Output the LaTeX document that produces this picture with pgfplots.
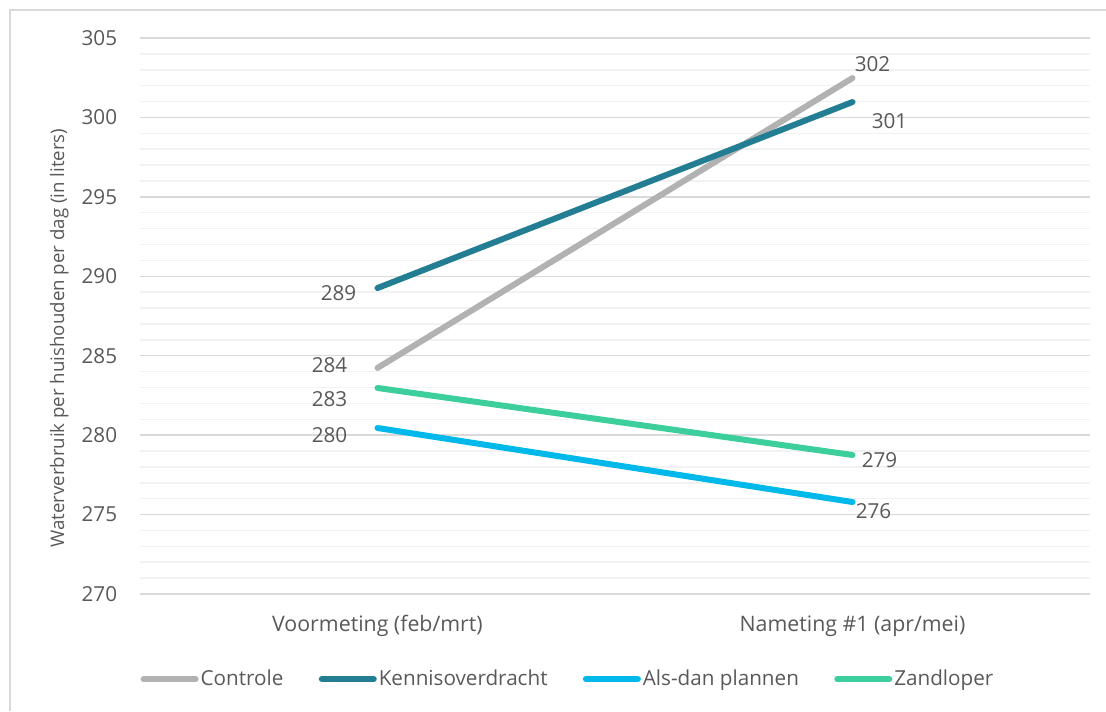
\documentclass[border=0pt]{standalone}
\usepackage{pgfplots}
\pgfplotsset{compat=1.18}
\usepackage{fontspec}
\setmainfont{Open Sans}

\definecolor{txt}{HTML}{595959}
\definecolor{gridmaj}{HTML}{D9D9D9}
\definecolor{gridmin}{HTML}{F2F2F2}
\definecolor{frame}{HTML}{D9D9D9}
\definecolor{cControle}{HTML}{B2B2B2}
\definecolor{cKennis}{HTML}{237E93}
\definecolor{cAlsdan}{HTML}{00B8EA}
\definecolor{cZand}{HTML}{3CCF9B}

\newcommand{\ticksize}{\fontsize{15.5}{18}\selectfont}

\pgfplotsset{
  vlabel/.style n args={3}{
    draw=none, mark=none, forget plot,
    nodes near coords={\pgfmathprintnumber[fixed,precision=0,assume math mode=true]{\pgfplotspointmeta}},
    every node near coord/.append style={anchor=#1, xshift=#2, yshift=#3,
      inner sep=0pt, font=\ticksize, text=txt},
  },
  series/.style={color=#1, line width=4.5pt, line cap=round, mark=none},
}

\begin{document}
\begin{tikzpicture}
\useasboundingbox (0,0) rectangle (829.5pt,533.25pt);
% chart frame (left and top edges)
\draw[frame, line width=1.1pt] (7.5pt,0pt) -- (7.5pt,525.75pt) -- (829.5pt,525.75pt);

\begin{axis}[
  at={(105pt,87.75pt)}, anchor=south west,
  scale only axis, width=712.5pt, height=417pt,
  xmin=-0.5, xmax=1.5, ymin=270, ymax=305,
  xtick={0,1},
  xticklabels={Voormeting (feb/mrt), Nameting \#1 (apr/mei)},
  ytick={270,275,...,305},
  minor y tick num=4,
  ymajorgrids, yminorgrids,
  major grid style={gridmaj, line width=1.1pt},
  minor grid style={gridmin, line width=1.1pt},
  axis line style={draw=none},
  major tick length=0pt, minor tick length=0pt,
  tick label style={font=\ticksize, text=txt},
  /pgf/number format/assume math mode=true,
  yticklabel style={anchor=east, inner sep=0pt, xshift=-17pt},
  xticklabel style={anchor=center, inner sep=0pt, yshift=-24pt, font=\fontsize{16}{19}\selectfont},
  ylabel={Waterverbruik per huishouden per dag (in liters)},
  ylabel style={at={(axis description cs:-0.085,0.46)}, anchor=center,
    font=\fontsize{14}{17}\selectfont, text=txt},
  clip=false,
  legend columns=4,
  legend style={at={(axis description cs:0.4505,-0.153)}, anchor=center,
    draw=none, fill=none, font=\fontsize{15.5}{18}\selectfont, text=txt,
    inner sep=0pt,
    /tikz/every even column/.append style={column sep=25pt},
    /tikz/every odd column/.append style={column sep=0pt},
    nodes={inner sep=1.5pt}},
  legend image code/.code={\draw[#1] (0pt,0pt) -- (39pt,0pt);},
]
\addplot[series=cControle] coordinates {(0,284.23) (1,302.48)};
\addlegendentry{Controle}
\addplot[series=cKennis] coordinates {(0,289.26) (1,300.97)};
\addlegendentry{Kennisoverdracht}
\addplot[series=cAlsdan] coordinates {(0,280.45) (1,275.79)};
\addlegendentry{Als-dan plannen}
\addplot[series=cZand] coordinates {(0,282.97) (1,278.75)};
\addlegendentry{Zandloper}

% value labels
\addplot[vlabel={east}{-15.75pt}{-3.75pt}] coordinates {(0,289.26)};
\addplot[vlabel={east}{-22.5pt}{2.25pt}] coordinates {(0,284.23)};
\addplot[vlabel={east}{-22.5pt}{-8.25pt}] coordinates {(0,282.97)};
\addplot[vlabel={east}{-22.5pt}{-5.25pt}] coordinates {(0,280.45)};
\addplot[vlabel={west}{1.5pt}{10.5pt}] coordinates {(1,302.48)};
\addplot[vlabel={west}{14.25pt}{-14.25pt}] coordinates {(1,300.97)};
\addplot[vlabel={west}{6.75pt}{-3.75pt}] coordinates {(1,278.75)};
\addplot[vlabel={west}{2.25pt}{-6.75pt}] coordinates {(1,275.79)};
\end{axis}
\end{tikzpicture}
\end{document}
